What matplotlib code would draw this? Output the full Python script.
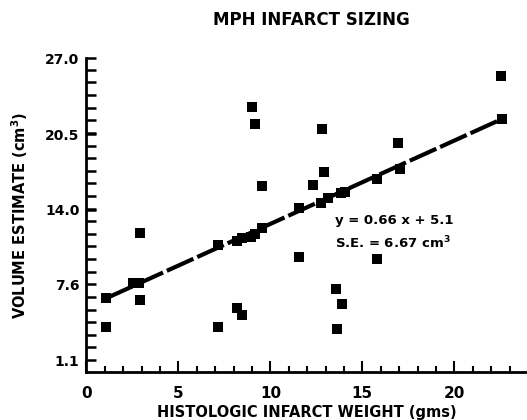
import matplotlib
matplotlib.use('Agg')
import matplotlib.pyplot as plt
import numpy as np

# data
weight = [1.07, 1.07, 2.55, 2.88, 2.92, 2.92, 7.17, 7.17, 8.17, 8.45, 8.93, 9.17,
          9.53, 8.17, 8.45, 8.99, 9.17, 9.53, 11.56, 11.56, 12.34, 12.76, 12.93,
          13.15, 13.84, 14.06, 12.79, 13.57, 13.91, 13.61, 15.78, 15.78, 16.96,
          17.05, 22.54, 22.58]
volume = [6.40, 3.96, 7.69, 7.69, 6.25, 12.03, 10.95, 3.91, 11.32, 11.55, 11.69, 11.92,
          12.41, 5.54, 4.97, 22.79, 21.36, 16.04, 14.18, 9.97, 16.12, 14.55, 17.27,
          14.98, 15.41, 15.55, 20.93, 7.17, 5.91, 3.76, 16.64, 9.77, 19.70,
          17.50, 25.48, 21.79]

fit_x = [1.07, 22.58]
fit_y = [6.40, 21.79]

y_ticks = [1.1, 7.6, 14.0, 20.5, 27.0]
y_labels = ['1.1', '7.6', '14.0', '20.5', '27.0']
x_ticks = [0, 5, 10, 15, 20]

fig = plt.figure(figsize=(5.27, 4.2), dpi=100)
ax = fig.add_axes([0.164, 0.115, 0.836, 0.746])

ax.plot(fit_x, fit_y, color='black', lw=3, dashes=(7, 1), solid_capstyle='butt', zorder=2)
ax.plot(weight, volume, 's', color='black', markersize=6.8, markeredgewidth=0,
        zorder=3, clip_on=False)

ax.set_xlim(0, 23.95)
ax.set_ylim(0.1, 27.0)

for side in ['top', 'right']:
    ax.spines[side].set_visible(False)
for side in ['left', 'bottom']:
    ax.spines[side].set_linewidth(2)

ax.set_yticks(y_ticks)
ax.set_yticklabels(y_labels)
ax.set_yticks(np.arange(1.1, 27.05, 6.5 / 6), minor=True)
ax.set_xticks(x_ticks)
ax.set_xticks(range(1, 24), minor=True)

ax.tick_params(axis='y', which='both', direction='in', length=7, width=1.8,
               labelsize=10, pad=5)
ax.tick_params(axis='x', which='major', direction='in', length=8, width=1.5,
               labelsize=11, pad=10)
ax.tick_params(axis='x', which='minor', direction='in', length=4, width=1.5)
for lab in ax.get_xticklabels() + ax.get_yticklabels():
    lab.set_fontweight('bold')

ax.set_xlabel('HISTOLOGIC INFARCT WEIGHT (gms)', fontsize=10.5, fontweight='bold', labelpad=3)
ax.set_ylabel('VOLUME ESTIMATE (cm$^\\mathbf{3}$)', fontsize=10.5, fontweight='bold', labelpad=11)

ax.text(13.5, 13.05, 'y = 0.66 x + 5.1', fontsize=9.5, fontweight='bold', va='center', ha='left')
ax.text(13.5, 11.15, 'S.E. = 6.67 cm$^\\mathbf{3}$', fontsize=9.5, fontweight='bold', va='center', ha='left')

fig.text(0.59, 0.952, 'MPH INFARCT SIZING', fontsize=12, fontweight='bold', ha='center', va='center')

fig.savefig('out.png', dpi=100, facecolor='white')
